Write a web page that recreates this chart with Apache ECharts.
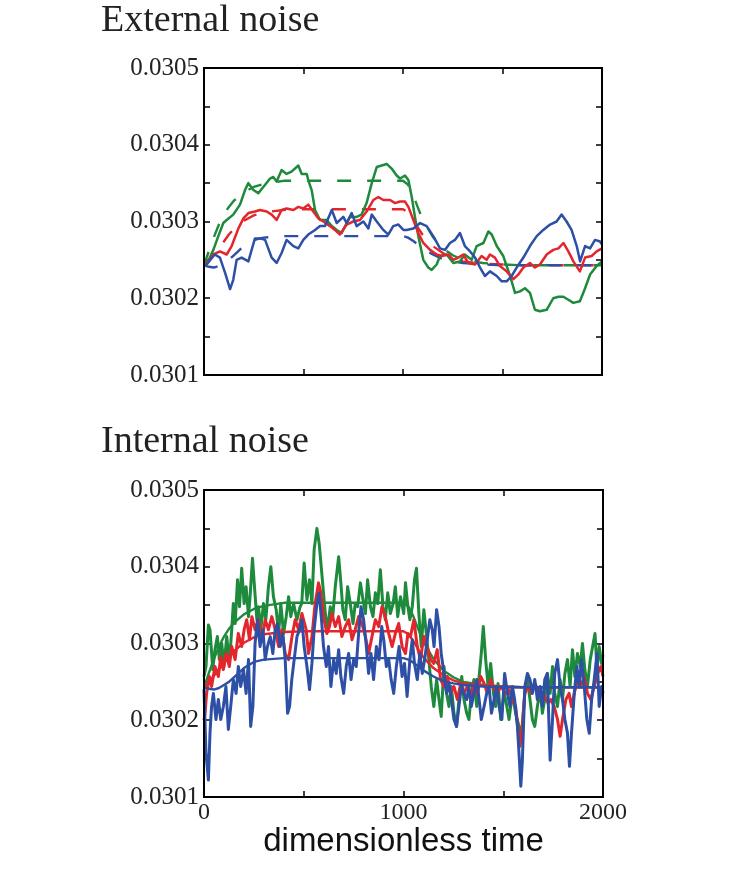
<!DOCTYPE html>
<html><head><meta charset="utf-8">
<script src="https://cdn.jsdelivr.net/npm/echarts@6/dist/echarts.min.js"></script>
<style>html,body{margin:0;padding:0;background:#fff}#c{width:730px;height:872px}</style>
</head><body><div id="c"></div>
<script>
// ---- tick labels ----
const xTickLabels = [0, 1000, 2000];
const yTickLabels = [0.0301, 0.0302, 0.0303, 0.0304, 0.0305];
const panelTitles = ['External noise', 'Internal noise'];
const xAxisTitle = 'dimensionless time';

// ---- deterministic (mean) responses ----
const tDet = [0,25,50,75,100,125,150,200,250,300,400,500,600,700,800,900,1000,1025,1050,1075,1100,1150,1200,1250,1300,1400,1500,1600,1700,1800,1900,2000];
const detGreen = [0.030243,0.030262,0.030280,0.030296,0.030309,0.030319,0.030327,0.030338,0.030345,0.030349,0.030353,0.030353,0.030353,0.030353,0.030353,0.030353,0.030353,0.030348,0.030335,0.030318,0.030302,0.030280,0.030265,0.030256,0.030250,0.030246,0.030244,0.030243,0.030243,0.030243,0.030243,0.030243];
const detRed = [0.030243,0.030250,0.030258,0.030266,0.030274,0.030283,0.030290,0.030301,0.030308,0.030312,0.030315,0.030316,0.030316,0.030316,0.030316,0.030316,0.030316,0.030312,0.030303,0.030292,0.030282,0.030268,0.030259,0.030252,0.030248,0.030245,0.030244,0.030243,0.030243,0.030243,0.030243,0.030243];
const detBlue = [0.030243,0.030241,0.030240,0.030242,0.030246,0.030250,0.030256,0.030268,0.030276,0.030279,0.030281,0.030281,0.030281,0.030281,0.030281,0.030281,0.030281,0.030279,0.030275,0.030270,0.030265,0.030257,0.030251,0.030248,0.030246,0.030244,0.030243,0.030243,0.030243,0.030243,0.030243,0.030243];

// ---- external noise (top panel) ----
const tExtGreen = [0,13,47,72,97,114,147,181,206,223,248,273,298,332,348,365,390,415,440,474,491,516,524,541,558,583,616,642,667,692,717,734,767,792,817,843,868,893,918,943,968,985,1010,1027,1044,1060,1077,1102,1127,1144,1169,1186,1219,1253,1286,1311,1345,1370,1404,1429,1446,1471,1504,1538,1563,1588,1613,1638,1663,1688,1722,1755,1781,1806,1831,1856,1889,1915,1940,1973,2000];
const extGreen = [0.030243,0.030244,0.030263,0.030281,0.030298,0.030302,0.030309,0.030322,0.030341,0.030350,0.030341,0.030337,0.030345,0.030356,0.030358,0.030352,0.030367,0.030362,0.030365,0.030373,0.030362,0.030362,0.030354,0.030341,0.030315,0.030302,0.030302,0.030294,0.030289,0.030285,0.030298,0.030306,0.030306,0.030309,0.030324,0.030350,0.030371,0.030373,0.030375,0.030369,0.030360,0.030356,0.030360,0.030354,0.030332,0.030306,0.030281,0.030250,0.030240,0.030237,0.030244,0.030255,0.030257,0.030246,0.030248,0.030257,0.030250,0.030268,0.030272,0.030287,0.030283,0.030268,0.030255,0.030229,0.030207,0.030209,0.030213,0.030207,0.030185,0.030183,0.030185,0.030200,0.030202,0.030202,0.030198,0.030194,0.030196,0.030213,0.030231,0.030242,0.030248];
const tExtRed = [0,13,47,80,114,139,173,198,223,256,281,315,340,365,390,415,449,474,499,524,549,575,600,633,658,683,717,750,784,817,851,876,901,935,960,985,1010,1027,1052,1077,1102,1136,1169,1194,1228,1253,1278,1303,1328,1362,1395,1420,1437,1462,1487,1521,1555,1580,1605,1638,1663,1688,1722,1755,1781,1806,1831,1856,1889,1915,1948,1973,2000];
const extRed = [0.030243,0.030244,0.030257,0.030261,0.030257,0.030268,0.030291,0.030304,0.030311,0.030313,0.030315,0.030313,0.030309,0.030302,0.030315,0.030317,0.030315,0.030319,0.030317,0.030322,0.030313,0.030304,0.030300,0.030294,0.030289,0.030283,0.030296,0.030300,0.030302,0.030313,0.030328,0.030332,0.030328,0.030328,0.030324,0.030326,0.030326,0.030319,0.030302,0.030285,0.030272,0.030263,0.030257,0.030255,0.030257,0.030250,0.030253,0.030257,0.030246,0.030244,0.030255,0.030250,0.030257,0.030253,0.030242,0.030235,0.030225,0.030231,0.030240,0.030246,0.030240,0.030244,0.030257,0.030263,0.030265,0.030272,0.030261,0.030248,0.030235,0.030253,0.030255,0.030261,0.030265];
const tExtBlue = [0,13,54,80,106,131,147,164,189,223,256,281,307,340,365,390,415,449,474,499,524,558,583,608,642,667,700,717,742,767,801,826,843,868,901,926,951,977,1002,1018,1052,1086,1119,1152,1186,1211,1236,1261,1286,1311,1337,1362,1387,1412,1437,1471,1496,1521,1546,1571,1605,1638,1672,1705,1739,1772,1797,1822,1847,1873,1890,1915,1940,1965,1990,2000];
const extBlue = [0.030243,0.030244,0.030257,0.030253,0.030233,0.030212,0.030224,0.030250,0.030253,0.030248,0.030278,0.030278,0.030276,0.030253,0.030246,0.030259,0.030276,0.030268,0.030265,0.030276,0.030283,0.030289,0.030294,0.030294,0.030315,0.030298,0.030306,0.030298,0.030311,0.030294,0.030300,0.030291,0.030309,0.030300,0.030289,0.030283,0.030294,0.030296,0.030289,0.030289,0.030291,0.030298,0.030294,0.030281,0.030265,0.030263,0.030272,0.030276,0.030285,0.030268,0.030261,0.030253,0.030240,0.030229,0.030235,0.030229,0.030222,0.030222,0.030229,0.030240,0.030253,0.030268,0.030281,0.030289,0.030296,0.030300,0.030309,0.030300,0.030289,0.030268,0.030248,0.030268,0.030265,0.030276,0.030274,0.030270];

// ---- internal noise (bottom panel) ----
const tIntGreen = [0,10,22,30,44,55,67,77,89,100,114,127,139,147,156,168,178,189,201,211,223,231,243,253,265,273,285,298,310,323,335,348,362,374,385,399,412,424,435,449,466,482,490,502,516,529,541,552,566,577,589,599,608,619,633,644,658,675,686,696,708,720,733,747,758,770,784,797,809,820,834,847,859,871,884,897,909,921,934,948,959,971,985,1001,1010,1022,1032,1044,1055,1065,1077,1089,1102,1116,1127,1139,1152,1166,1178,1189,1203,1216,1228,1240,1253,1266,1278,1292,1303,1317,1328,1340,1353,1367,1379,1390,1400,1412,1424,1437,1451,1462,1474,1487,1504,1512,1529,1546,1562,1579,1591,1608,1621,1634,1646,1658,1671,1685,1696,1708,1721,1735,1747,1758,1772,1785,1797,1809,1822,1835,1847,1859,1872,1886,1897,1909,1922,1936,1948,1960,1970,1981,1993,2000];
const intGreen = [0.030257,0.030270,0.030324,0.030318,0.030266,0.030292,0.030309,0.030279,0.030300,0.030270,0.030309,0.030274,0.030318,0.030352,0.030326,0.030383,0.030348,0.030398,0.030352,0.030374,0.030335,0.030361,0.030411,0.030374,0.030331,0.030348,0.030318,0.030352,0.030331,0.030374,0.030400,0.030361,0.030344,0.030313,0.030352,0.030313,0.030335,0.030361,0.030335,0.030352,0.030331,0.030348,0.030352,0.030405,0.030357,0.030383,0.030352,0.030422,0.030450,0.030431,0.030396,0.030366,0.030339,0.030318,0.030348,0.030331,0.030374,0.030413,0.030379,0.030344,0.030331,0.030374,0.030352,0.030326,0.030352,0.030348,0.030379,0.030357,0.030339,0.030383,0.030348,0.030335,0.030366,0.030352,0.030396,0.030348,0.030331,0.030366,0.030339,0.030352,0.030374,0.030335,0.030361,0.030339,0.030379,0.030348,0.030331,0.030348,0.030383,0.030398,0.030339,0.030296,0.030344,0.030309,0.030279,0.030244,0.030218,0.030253,0.030227,0.030205,0.030270,0.030235,0.030218,0.030244,0.030209,0.030192,0.030227,0.030257,0.030227,0.030209,0.030201,0.030235,0.030253,0.030218,0.030257,0.030287,0.030322,0.030279,0.030244,0.030274,0.030235,0.030218,0.030248,0.030201,0.030235,0.030227,0.030201,0.030235,0.030209,0.030192,0.030180,0.030235,0.030253,0.030227,0.030201,0.030192,0.030218,0.030240,0.030209,0.030227,0.030261,0.030235,0.030270,0.030235,0.030218,0.030253,0.030227,0.030261,0.030279,0.030244,0.030292,0.030257,0.030287,0.030270,0.030300,0.030266,0.030244,0.030279,0.030296,0.030313,0.030266,0.030296,0.030274,0.030285];
const tIntRed = [0,5,13,27,38,55,72,84,97,110,127,139,156,172,189,201,214,228,240,256,273,290,307,323,340,357,374,390,407,424,441,457,474,491,512,524,541,557,574,586,599,616,629,641,658,675,691,708,725,742,758,775,792,809,825,842,859,876,892,909,926,943,959,976,993,1010,1022,1035,1052,1069,1085,1102,1119,1136,1152,1169,1186,1203,1220,1236,1253,1270,1287,1303,1320,1337,1354,1370,1387,1404,1420,1437,1454,1471,1487,1512,1529,1546,1562,1574,1584,1596,1608,1624,1641,1658,1675,1691,1708,1725,1738,1755,1772,1785,1797,1814,1830,1842,1856,1872,1889,1906,1922,1939,1956,1973,1990,2000];
const intRed = [0.030200,0.030209,0.030235,0.030257,0.030244,0.030270,0.030257,0.030283,0.030266,0.030287,0.030270,0.030296,0.030279,0.030313,0.030296,0.030318,0.030331,0.030305,0.030335,0.030318,0.030331,0.030305,0.030331,0.030318,0.030335,0.030318,0.030296,0.030318,0.030287,0.030279,0.030309,0.030331,0.030318,0.030339,0.030318,0.030287,0.030309,0.030352,0.030379,0.030366,0.030335,0.030313,0.030322,0.030339,0.030322,0.030335,0.030309,0.030322,0.030331,0.030305,0.030318,0.030335,0.030326,0.030309,0.030287,0.030309,0.030331,0.030322,0.030348,0.030335,0.030313,0.030296,0.030313,0.030326,0.030296,0.030287,0.030313,0.030309,0.030331,0.030296,0.030279,0.030309,0.030296,0.030279,0.030274,0.030292,0.030253,0.030244,0.030257,0.030235,0.030244,0.030227,0.030248,0.030235,0.030244,0.030227,0.030248,0.030235,0.030257,0.030248,0.030235,0.030253,0.030240,0.030235,0.030244,0.030235,0.030240,0.030227,0.030218,0.030188,0.030166,0.030192,0.030235,0.030244,0.030235,0.030248,0.030240,0.030227,0.030231,0.030222,0.030227,0.030218,0.030201,0.030179,0.030201,0.030227,0.030235,0.030218,0.030235,0.030253,0.030244,0.030257,0.030235,0.030227,0.030244,0.030261,0.030270,0.030257];
const tIntBlue = [0,10,22,30,38,47,60,72,84,97,110,122,134,147,161,172,184,198,211,223,234,245,256,268,281,295,307,318,332,345,357,368,382,395,407,419,429,440,452,466,479,491,502,516,529,541,552,566,577,589,599,613,624,636,650,663,675,686,700,713,725,737,750,763,775,787,800,814,825,837,850,864,877,891,901,914,926,938,951,964,978,993,1005,1018,1032,1044,1055,1069,1082,1094,1106,1119,1132,1144,1153,1166,1178,1189,1203,1216,1228,1240,1253,1266,1278,1290,1303,1317,1328,1340,1353,1367,1379,1390,1404,1417,1429,1441,1454,1467,1479,1493,1507,1521,1534,1546,1557,1571,1581,1588,1596,1608,1621,1634,1646,1658,1671,1685,1696,1708,1721,1735,1747,1758,1772,1785,1797,1809,1822,1832,1842,1856,1869,1881,1892,1906,1919,1931,1943,1956,1970,1981,1993,2000];
const intBlue = [0.030240,0.030157,0.030122,0.030183,0.030218,0.030235,0.030201,0.030227,0.030201,0.030218,0.030244,0.030188,0.030218,0.030253,0.030235,0.030270,0.030244,0.030266,0.030235,0.030279,0.030192,0.030218,0.030300,0.030331,0.030296,0.030318,0.030279,0.030296,0.030309,0.030287,0.030318,0.030326,0.030296,0.030313,0.030279,0.030209,0.030218,0.030253,0.030279,0.030309,0.030318,0.030331,0.030296,0.030270,0.030240,0.030274,0.030318,0.030352,0.030366,0.030331,0.030296,0.030270,0.030296,0.030244,0.030279,0.030261,0.030292,0.030257,0.030235,0.030270,0.030287,0.030253,0.030279,0.030270,0.030313,0.030348,0.030331,0.030296,0.030261,0.030287,0.030253,0.030296,0.030279,0.030322,0.030305,0.030270,0.030279,0.030253,0.030235,0.030270,0.030296,0.030257,0.030274,0.030231,0.030279,0.030305,0.030274,0.030253,0.030287,0.030261,0.030279,0.030305,0.030331,0.030318,0.030296,0.030344,0.030322,0.030287,0.030261,0.030235,0.030248,0.030227,0.030201,0.030192,0.030218,0.030244,0.030235,0.030227,0.030244,0.030218,0.030235,0.030253,0.030227,0.030201,0.030218,0.030235,0.030244,0.030209,0.030227,0.030244,0.030218,0.030201,0.030261,0.030235,0.030218,0.030244,0.030227,0.030192,0.030148,0.030114,0.030148,0.030244,0.030261,0.030253,0.030235,0.030253,0.030227,0.030244,0.030218,0.030253,0.030261,0.030148,0.030201,0.030261,0.030279,0.030244,0.030227,0.030201,0.030183,0.030140,0.030183,0.030235,0.030270,0.030244,0.030279,0.030244,0.030201,0.030183,0.030227,0.030253,0.030287,0.030218,0.030244,0.030235];

// ---- styling ----
const GREEN = '#1e8a3c', RED = '#e4262c', BLUE = '#2d4fa6';
const SERIF = '"Liberation Serif", "Times New Roman", serif';
const SANS = '"Liberation Sans", Arial, sans-serif';

function pairs(t, v) { return t.map((x, i) => [x, v[i]]); }

const tickStyle = { color: '#000', width: 1.5 };
function xAxisDef(grid, pos, showLabels, withName) {
  const a = {
    type: 'value', gridIndex: grid, position: pos, min: 0, max: 2000, interval: 500,
    axisLine: { show: false, onZero: false }, splitLine: { show: false },
    axisTick: { show: true, inside: true, length: 6, lineStyle: tickStyle },
    axisLabel: {
      show: showLabels, margin: 4, fontFamily: SERIF, fontSize: 24, color: '#222',
      formatter: v => xTickLabels.includes(v) ? String(v) : ''
    }
  };
  if (withName) {
    a.name = xAxisTitle; a.nameLocation = 'middle'; a.nameGap = 28;
    a.nameTextStyle = { fontFamily: SANS, fontSize: 33, color: '#111' };
  }
  return a;
}
function yAxisDef(grid, pos, showLabels) {
  return {
    type: 'value', gridIndex: grid, position: pos, min: 0.0301, max: 0.0305, interval: 0.00005,
    axisLine: { show: false, onZero: false }, splitLine: { show: false },
    axisTick: { show: true, inside: true, length: 6, lineStyle: tickStyle },
    axisLabel: {
      show: showLabels, margin: 5, fontFamily: SERIF, fontSize: 25, color: '#222',
      formatter: v => {
        const m = yTickLabels.find(y => Math.abs(y - v) < 1e-9);
        return m !== undefined ? m.toFixed(4) : '';
      }
    }
  };
}

function line(xi, yi, t, v, color, width, dash, z) {
  return {
    type: 'line', xAxisIndex: xi, yAxisIndex: yi, data: pairs(t, v),
    showSymbol: false, symbol: 'none', silent: true, z: z,
    lineStyle: { color: color, width: width, type: dash || 'solid', cap: 'butt', join: 'round' }
  };
}

const DASH = [14, 16];
const series = [
  line(0, 0, tDet, detGreen, GREEN, 2.4, DASH, 2),
  line(0, 0, tDet, detRed, RED, 2.4, DASH, 2),
  line(0, 0, tDet, detBlue, BLUE, 2.4, DASH, 2),
  line(0, 0, tExtGreen, extGreen, GREEN, 2.5, null, 3),
  line(0, 0, tExtRed, extRed, RED, 2.5, null, 3),
  line(0, 0, tExtBlue, extBlue, BLUE, 2.5, null, 3),
  line(2, 2, tIntGreen, intGreen, GREEN, 3, null, 2),
  line(2, 2, tDet, detGreen, GREEN, 2.4, null, 2),
  line(2, 2, tIntRed, intRed, RED, 3, null, 3),
  line(2, 2, tDet, detRed, RED, 2.4, null, 3),
  line(2, 2, tIntBlue, intBlue, BLUE, 3, null, 4),
  line(2, 2, tDet, detBlue, BLUE, 2.4, null, 4)
];

const chart = echarts.init(document.getElementById('c'), null, { renderer: 'canvas' });
chart.setOption({
  animation: false,
  backgroundColor: '#fff',
  grid: [
    { left: 204, top: 68, width: 398, height: 307, show: true, borderColor: '#000', borderWidth: 2, backgroundColor: 'transparent', z: 10 },
    { left: 204, top: 490, width: 399, height: 307, show: true, borderColor: '#000', borderWidth: 2, backgroundColor: 'transparent', z: 10 }
  ],
  xAxis: [
    xAxisDef(0, 'bottom', false, false),
    xAxisDef(0, 'top', false, false),
    xAxisDef(1, 'bottom', true, true),
    xAxisDef(1, 'top', false, false)
  ],
  yAxis: [
    yAxisDef(0, 'left', true),
    yAxisDef(0, 'right', false),
    yAxisDef(1, 'left', true),
    yAxisDef(1, 'right', false)
  ],
  graphic: [
    { type: 'text', left: 101, top: 2, style: { text: panelTitles[0], font: '38px ' + SERIF, fill: '#222' } },
    { type: 'text', left: 101, top: 423, style: { text: panelTitles[1], font: '38px ' + SERIF, fill: '#222' } }
  ],
  series: series
});
</script>
</body></html>
